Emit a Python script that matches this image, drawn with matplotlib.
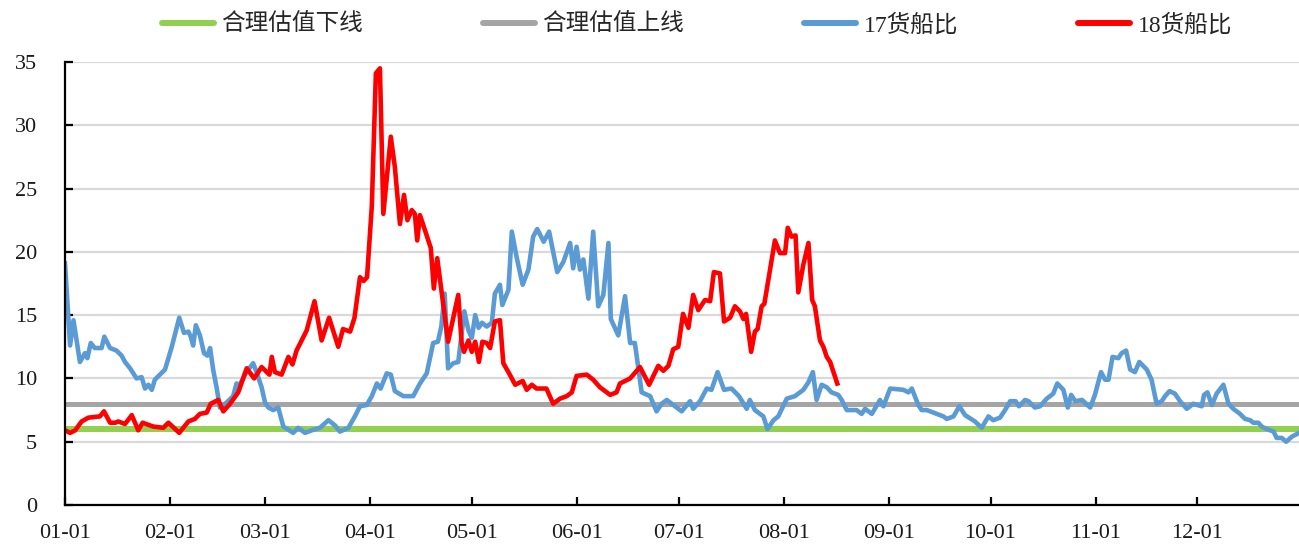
import matplotlib
matplotlib.use("Agg")
import matplotlib.pyplot as plt
from matplotlib.lines import Line2D

# ---- data (day of year index, 0 = 01-01) ----
month_ticks = [0, 31, 59, 90, 120, 151, 181, 212, 243, 273, 304, 334]
month_labels = ["01-01", "02-01", "03-01", "04-01", "05-01", "06-01",
                "07-01", "08-01", "09-01", "10-01", "11-01", "12-01"]

lower_fair = 6.0
upper_fair = 8.0

blue_days = [0, 1.5, 2.5, 4.4, 5.9, 6.6, 7.6, 8.8, 10.8, 11.6, 13.3, 15.2, 16.7, 17.7,
             19.2, 21.1, 22.6, 23.6, 24.6, 25.6, 26.5, 28, 29.5, 31.5, 33.7, 35.1, 36.4,
             37.1, 37.8, 38.6, 39.8, 41, 42, 42.8, 43.7, 44.7, 45.7, 47.7, 49.6, 50.6,
             51.6, 53.1, 54.1, 55.5, 56.5, 58, 59, 60, 61.4, 62.9, 64.4, 67.3, 68.8, 70.8,
             72.8, 75.2, 77.7, 79.6, 81.1, 83.6, 85.5, 87, 89, 90.5, 92, 93.1, 94.9, 96.1,
             97.3, 99.8, 102.7, 104.7, 106.7, 108.6, 110, 111, 112, 113, 114.5, 116, 117.8,
             119, 120, 121, 122, 123, 124.4, 125.9, 126.8, 128.3, 129, 130.8, 131.8, 133.2,
             135, 136.7, 138.1, 139.3, 141.2, 142.8, 145.2, 147, 149, 149.9, 150.9, 151.9,
             152.9, 154.4, 155.8, 157.3, 158.8, 160.3, 161, 163.2, 165.2, 166.7, 168.1,
             170.1, 172.6, 174.5, 176, 177.5, 181.9, 184.4, 185.3, 187.3, 189.3, 190.7,
             192.5, 194.4, 196.6, 198.8, 201.1, 202, 203.5, 206, 207.2, 209, 210.4, 212.9,
             215.3, 217.8, 219.3, 220.6, 221.7, 223.2, 224.7, 226.1, 228.1, 229.1, 230.6,
             233.5, 235, 236, 238, 240.4, 241.4, 243.4, 247.3, 248.8, 249.8, 251.7, 252.7,
             254.2, 259.1, 260.1, 262.1, 263.8, 265.5, 268.4, 270.4, 272.4, 273.8, 275.8,
             277.3, 278.8, 280.4, 281.4, 283.2, 284.2, 286.1, 287.6, 289.6, 291.5, 292.7,
             294.5, 295.8, 296.8, 298, 300, 302.4, 303.8, 305.6, 306.8, 307.8, 309, 310.7,
             311.7, 313, 314.2, 315.6, 316.9, 319.1, 320.5, 322, 323.5, 324.5, 325.8,
             327.4, 328.9, 330.9, 332.8, 335.3, 336, 337, 338.3, 339.7, 341.7, 343.2,
             344.6, 346.6, 348.1, 349.6, 350.5, 352, 353, 354.5, 356.5, 357.4, 358.9,
             360.2, 361.9, 364]
blue_vals = [19.1, 12.6, 14.6, 11.3, 12.0, 11.6, 12.8, 12.4, 12.4, 13.3, 12.4, 12.2, 11.8, 11.3,
             10.8, 10.0, 10.1, 9.2, 9.5, 9.1, 9.9, 10.3, 10.7, 12.5, 14.8, 13.6, 13.7,
             13.3, 12.6, 14.2, 13.4, 12.0, 11.8, 12.4, 10.7, 9.3, 7.7, 8.1, 8.6, 9.6,
             9.5, 10.3, 10.7, 11.2, 10.5, 9.3, 8.1, 7.7, 7.5, 7.7, 6.2, 5.7, 6.1, 5.7,
             5.9, 6.1, 6.7, 6.3, 5.8, 6.1, 7.0, 7.8, 7.9, 8.6, 9.6, 9.2, 10.4, 10.3,
             9.0, 8.6, 8.6, 9.6, 10.4, 12.8, 12.9, 14.1, 16.7, 10.8, 11.2, 11.3, 15.3,
             13.8, 13.2, 15.0, 14.0, 14.4, 14.1, 14.4, 16.7, 17.4, 15.8, 17.0, 21.6, 19.6,
             17.4, 18.6, 21.2, 21.8, 20.8, 21.6, 18.4, 19.2, 20.7, 18.7, 20.4, 18.6,
             19.4, 16.3, 21.6, 15.7, 16.6, 20.7, 14.7, 13.4, 16.5, 12.8, 12.8,
             8.9, 8.6, 7.4, 8.0, 8.3, 7.4, 8.2, 7.6, 8.2, 9.2, 9.1,
             10.5, 9.1, 9.2, 8.6, 7.6, 8.3, 7.5, 7.0, 6.0, 6.7, 7.0, 8.4,
             8.6, 9.1, 9.7, 10.5, 8.3, 9.5, 9.3, 8.9, 8.7, 8.3, 7.5,
             7.5, 7.2, 7.6, 7.2, 8.3, 7.8, 9.2, 9.1, 8.9, 9.2, 7.9, 7.5,
             7.5, 7.0, 6.8, 7.0, 7.8, 7.1, 6.6, 6.1, 7.0, 6.7, 6.9,
             7.5, 8.2, 8.2, 7.8, 8.3, 8.2, 7.7, 7.8, 8.4, 8.8, 9.6,
             9.1, 7.7, 8.7, 8.2, 8.3, 7.7, 8.7, 10.5, 9.9, 9.9, 11.7, 11.6,
             12.0, 12.2, 10.7, 10.5, 11.3, 10.7, 9.9, 8.0, 8.2, 8.6, 9.0,
             8.8, 8.2, 7.6, 8.0, 7.8, 8.7, 8.9, 7.9, 8.8, 9.5, 8.0,
             7.6, 7.2, 6.8, 6.7, 6.5, 6.5, 6.2, 6.0, 5.8, 5.3, 5.3,
             5.0, 5.4, 5.7]

red_days = [0, 1.5, 3, 4.9, 6.9, 10.3, 11.5, 13.3, 14.8, 15.7, 17.7, 19.7, 21.6, 22.9, 26,
            29, 30.5, 33.7, 36.4, 38.3, 39.8, 41.8, 43, 45.2, 46.7, 48.7, 51.1, 53.6, 55.8,
            58, 60.3, 61, 61.9, 63.9, 65.9, 67.1, 68.3, 71.3, 73.6, 75.7, 77.9, 80.6, 82,
            84.1, 85.4, 87, 88.1, 89.1, 90.5, 91.7, 92.9, 93.9, 96.1, 97.3, 98.8, 100, 101,
            102.3, 103.2, 103.9, 104.7, 106.2, 107.9, 108.8, 109.8, 111.1, 113, 116, 117,
            117.7, 119, 120, 121, 122.1, 123.1, 124.4, 125.4, 126.8, 128.3, 129.3, 131,
            132.8, 135, 136.2, 137.7, 139.1, 142, 144, 146, 148, 149.5, 150.9, 153.9, 155.8,
            157.8, 160.8, 162.7, 163.7, 166.7, 169.6, 172.3, 175, 176.5, 178, 179.4, 180.9,
            182.3, 183.9, 185.3, 186.8, 188.8, 190.3, 191.4, 193.2, 194.4, 196.2, 197.6,
            199.1, 200.1, 200.9, 202.4, 203.5, 204.3, 205.5, 206.3, 209.4, 210.9, 212.4,
            213.2, 214.3, 215.5, 216.3, 217.8, 219.3, 220.4, 221.2, 222.7, 223.7, 224.7,
            225.7, 227.8]
red_vals = [5.9, 5.7, 5.9, 6.6, 6.9, 7.0, 7.4, 6.5, 6.5, 6.6, 6.4, 7.1, 5.9, 6.5, 6.2,
            6.1, 6.5, 5.7, 6.6, 6.8, 7.2, 7.3, 8.0, 8.3, 7.4, 8.0, 8.9, 10.8, 10.0,
            10.9, 10.3, 11.7, 10.5, 10.3, 11.7, 11.1, 12.2, 13.8, 16.1, 13.0, 14.8, 12.5, 13.9,
            13.7, 14.8, 18.0, 17.7, 18.0, 23.6, 34.1, 34.5, 23.0, 29.1, 26.7, 22.2, 24.5, 22.5,
            23.3, 23.0, 20.9, 22.9, 21.7, 20.3, 17.1, 19.5, 16.8, 12.9, 16.6, 12.8,
            12.1, 13.0, 12.1, 12.9, 11.3, 12.9, 12.8, 12.4, 14.5, 14.6, 11.2, 10.4,
            9.5, 9.8, 9.1, 9.5, 9.2, 9.2, 8.0, 8.4, 8.6, 8.9, 10.2, 10.3, 9.9,
            9.3, 8.7, 8.9, 9.6, 10.0, 10.9, 9.5, 11.0, 10.6, 11.0, 12.3, 12.5,
            15.1, 14.0, 16.6, 15.4, 16.2, 16.1, 18.4, 18.3, 14.5, 14.8, 15.7,
            15.3, 14.7, 15.1, 12.1, 13.7, 13.9, 15.7, 15.9, 20.9, 19.9, 19.9,
            21.9, 21.2, 21.3, 16.8, 19.0, 20.7, 16.2, 15.7, 13.0, 12.5, 11.7,
            11.3, 9.6]

series_names = ["合理估值下线", "合理估值上线", "17货船比", "18货船比"]
c_green, c_gray, c_blue, c_red = "#92D050", "#A5A5A5", "#5B9BD5", "#FF0000"

# ---- figure ----
fig = plt.figure(figsize=(12.99, 5.44), dpi=100)
ax = fig.add_axes([65 / 1299, 1 - 505 / 544, (1299 - 65) / 1299, (505 - 62) / 544])

ax.set_xlim(0, 364)
ax.set_ylim(0, 35)
ax.set_yticks(range(0, 36, 5))
ax.set_xticks(month_ticks)
ax.set_xticklabels(month_labels)

ax.yaxis.grid(True, color="#D9D9D9", linewidth=1.6, zorder=0)
ax.set_axisbelow(True)

ax.axhline(lower_fair, color=c_green, linewidth=4.3, zorder=2, solid_capstyle="butt")
ax.axhline(upper_fair, color=c_gray, linewidth=3.6, zorder=2, solid_capstyle="butt")
ax.plot(blue_days, blue_vals, color=c_blue, linewidth=3.3, zorder=3, solid_joinstyle="round")
ax.plot(red_days, red_vals, color=c_red, linewidth=3.3, zorder=4, solid_joinstyle="round")

for s in ["top", "right"]:
    ax.spines[s].set_visible(False)
for s in ["left", "bottom"]:
    ax.spines[s].set_linewidth(1.6)
    ax.spines[s].set_color("black")
    ax.spines[s].set_zorder(5)

tick_font = "Liberation Serif"
ax.tick_params(axis="x", direction="in", length=6, width=1.6, pad=14,
               labelsize=16, colors="black")
ax.tick_params(axis="y", direction="in", length=6, width=1.6, pad=20,
               labelsize=16, colors="black")
for lab in ax.get_xticklabels() + ax.get_yticklabels():
    lab.set_fontfamily(tick_font)
    lab.set_color("#1a1a1a")

handles = [Line2D([], [], color=c, linewidth=4.3, solid_capstyle="round")
           for c in (c_green, c_gray, c_blue, c_red)]
leg = fig.legend(handles, series_names, loc="center", bbox_to_anchor=(697 / 1299, 1 - 25 / 544),
                 ncol=4, frameon=False, handlelength=2.2, handletextpad=0.3,
                 columnspacing=5.1, prop={"family": ["Liberation Serif", "Noto Sans CJK SC"], "size": 17})
for t in leg.get_texts():
    t.set_color("#262626")

fig.savefig("out.png", dpi=100)
